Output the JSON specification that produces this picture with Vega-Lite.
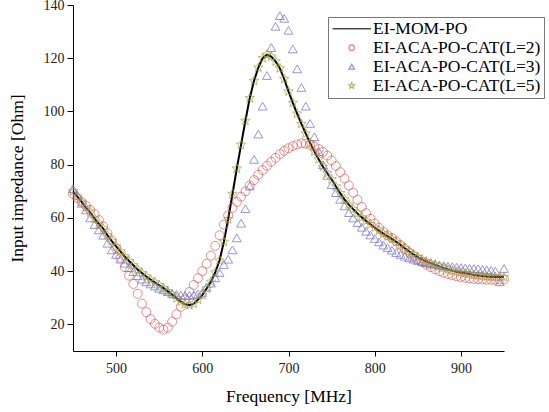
{
 "$schema": "https://vega.github.io/schema/vega-lite/v6.json",
 "width": 431, "height": 346,
 "autosize": {"type": "none"},
 "padding": {"left": 73, "top": 5, "right": 45, "bottom": 61},
 "background": "white",
 "config": {"view": {"stroke": null}},
 "data": {"values": [
{"s":"EI-MOM-PO","f":450,"v":70},{"s":"EI-MOM-PO","f":455,"v":68},{"s":"EI-MOM-PO","f":460,"v":66},{"s":"EI-MOM-PO","f":465,"v":64},{"s":"EI-MOM-PO","f":470,"v":62},{"s":"EI-MOM-PO","f":475,"v":59.8},{"s":"EI-MOM-PO","f":480,"v":57.8},{"s":"EI-MOM-PO","f":485,"v":56},{"s":"EI-MOM-PO","f":490,"v":53.5},{"s":"EI-MOM-PO","f":495,"v":51.3},
{"s":"EI-MOM-PO","f":500,"v":49.3},{"s":"EI-MOM-PO","f":505,"v":47.4},{"s":"EI-MOM-PO","f":510,"v":45.5},{"s":"EI-MOM-PO","f":515,"v":43.8},{"s":"EI-MOM-PO","f":520,"v":42.2},{"s":"EI-MOM-PO","f":525,"v":40.6},{"s":"EI-MOM-PO","f":530,"v":39.3},{"s":"EI-MOM-PO","f":535,"v":38},{"s":"EI-MOM-PO","f":540,"v":36.8},{"s":"EI-MOM-PO","f":545,"v":35.8},
{"s":"EI-MOM-PO","f":550,"v":34.7},{"s":"EI-MOM-PO","f":555,"v":33.6},{"s":"EI-MOM-PO","f":560,"v":32.4},{"s":"EI-MOM-PO","f":565,"v":31.2},{"s":"EI-MOM-PO","f":570,"v":29.8},{"s":"EI-MOM-PO","f":575,"v":28.6},{"s":"EI-MOM-PO","f":580,"v":27.6},{"s":"EI-MOM-PO","f":585,"v":27.2},{"s":"EI-MOM-PO","f":590,"v":27.8},{"s":"EI-MOM-PO","f":595,"v":29.3},
{"s":"EI-MOM-PO","f":600,"v":31},{"s":"EI-MOM-PO","f":605,"v":33.5},{"s":"EI-MOM-PO","f":610,"v":36},{"s":"EI-MOM-PO","f":615,"v":39.5},{"s":"EI-MOM-PO","f":620,"v":44},{"s":"EI-MOM-PO","f":625,"v":51},{"s":"EI-MOM-PO","f":630,"v":59.5},{"s":"EI-MOM-PO","f":635,"v":69},{"s":"EI-MOM-PO","f":640,"v":78.5},{"s":"EI-MOM-PO","f":645,"v":87.5},
{"s":"EI-MOM-PO","f":650,"v":96.5},{"s":"EI-MOM-PO","f":655,"v":105},{"s":"EI-MOM-PO","f":660,"v":111.5},{"s":"EI-MOM-PO","f":665,"v":116.5},{"s":"EI-MOM-PO","f":670,"v":120},{"s":"EI-MOM-PO","f":675,"v":121.3},{"s":"EI-MOM-PO","f":680,"v":120.6},{"s":"EI-MOM-PO","f":685,"v":118.8},{"s":"EI-MOM-PO","f":690,"v":116.2},{"s":"EI-MOM-PO","f":695,"v":112.2},
{"s":"EI-MOM-PO","f":700,"v":107.5},{"s":"EI-MOM-PO","f":705,"v":103.2},{"s":"EI-MOM-PO","f":710,"v":99.2},{"s":"EI-MOM-PO","f":715,"v":95.3},{"s":"EI-MOM-PO","f":720,"v":91.7},{"s":"EI-MOM-PO","f":725,"v":88.2},{"s":"EI-MOM-PO","f":730,"v":85},{"s":"EI-MOM-PO","f":735,"v":82},{"s":"EI-MOM-PO","f":740,"v":79.2},{"s":"EI-MOM-PO","f":745,"v":76.8},
{"s":"EI-MOM-PO","f":750,"v":74.5},{"s":"EI-MOM-PO","f":755,"v":71.8},{"s":"EI-MOM-PO","f":760,"v":69.3},{"s":"EI-MOM-PO","f":765,"v":67},{"s":"EI-MOM-PO","f":770,"v":65},{"s":"EI-MOM-PO","f":775,"v":63.3},{"s":"EI-MOM-PO","f":780,"v":61.7},{"s":"EI-MOM-PO","f":785,"v":60.2},{"s":"EI-MOM-PO","f":790,"v":58.9},{"s":"EI-MOM-PO","f":795,"v":57.6},
{"s":"EI-MOM-PO","f":800,"v":56.4},{"s":"EI-MOM-PO","f":805,"v":55.2},{"s":"EI-MOM-PO","f":810,"v":54.1},{"s":"EI-MOM-PO","f":815,"v":53.1},{"s":"EI-MOM-PO","f":820,"v":52.1},{"s":"EI-MOM-PO","f":825,"v":51},{"s":"EI-MOM-PO","f":830,"v":49.8},{"s":"EI-MOM-PO","f":835,"v":48.6},{"s":"EI-MOM-PO","f":840,"v":47.4},{"s":"EI-MOM-PO","f":845,"v":46.3},
{"s":"EI-MOM-PO","f":850,"v":45.3},{"s":"EI-MOM-PO","f":855,"v":44.4},{"s":"EI-MOM-PO","f":860,"v":43.7},{"s":"EI-MOM-PO","f":865,"v":43},{"s":"EI-MOM-PO","f":870,"v":42.4},{"s":"EI-MOM-PO","f":875,"v":41.8},{"s":"EI-MOM-PO","f":880,"v":41.2},{"s":"EI-MOM-PO","f":885,"v":40.6},{"s":"EI-MOM-PO","f":890,"v":40.2},{"s":"EI-MOM-PO","f":895,"v":39.8},
{"s":"EI-MOM-PO","f":900,"v":39.5},{"s":"EI-MOM-PO","f":905,"v":39.2},{"s":"EI-MOM-PO","f":910,"v":38.9},{"s":"EI-MOM-PO","f":915,"v":38.6},{"s":"EI-MOM-PO","f":920,"v":38.4},{"s":"EI-MOM-PO","f":925,"v":38.2},{"s":"EI-MOM-PO","f":930,"v":38},{"s":"EI-MOM-PO","f":935,"v":37.9},{"s":"EI-MOM-PO","f":940,"v":37.8},{"s":"EI-MOM-PO","f":945,"v":37.8},{"s":"EI-MOM-PO","f":950,"v":37.8},

{"s":"EI-ACA-PO-CAT(L=2)","f":450,"v":69},{"s":"EI-ACA-PO-CAT(L=2)","f":455,"v":67.5},{"s":"EI-ACA-PO-CAT(L=2)","f":460,"v":66},{"s":"EI-ACA-PO-CAT(L=2)","f":465,"v":64.6},{"s":"EI-ACA-PO-CAT(L=2)","f":470,"v":63},{"s":"EI-ACA-PO-CAT(L=2)","f":475,"v":61.5},{"s":"EI-ACA-PO-CAT(L=2)","f":480,"v":59.2},{"s":"EI-ACA-PO-CAT(L=2)","f":485,"v":56.8},{"s":"EI-ACA-PO-CAT(L=2)","f":490,"v":54.2},{"s":"EI-ACA-PO-CAT(L=2)","f":495,"v":51.6},
{"s":"EI-ACA-PO-CAT(L=2)","f":500,"v":48.5},{"s":"EI-ACA-PO-CAT(L=2)","f":505,"v":45},{"s":"EI-ACA-PO-CAT(L=2)","f":510,"v":41.5},{"s":"EI-ACA-PO-CAT(L=2)","f":515,"v":38.3},{"s":"EI-ACA-PO-CAT(L=2)","f":520,"v":35.2},{"s":"EI-ACA-PO-CAT(L=2)","f":525,"v":31.5},{"s":"EI-ACA-PO-CAT(L=2)","f":530,"v":27.8},{"s":"EI-ACA-PO-CAT(L=2)","f":535,"v":24.6},{"s":"EI-ACA-PO-CAT(L=2)","f":540,"v":22},{"s":"EI-ACA-PO-CAT(L=2)","f":545,"v":20.2},
{"s":"EI-ACA-PO-CAT(L=2)","f":550,"v":18.8},{"s":"EI-ACA-PO-CAT(L=2)","f":555,"v":18},{"s":"EI-ACA-PO-CAT(L=2)","f":560,"v":18.8},{"s":"EI-ACA-PO-CAT(L=2)","f":565,"v":21},{"s":"EI-ACA-PO-CAT(L=2)","f":570,"v":23.8},{"s":"EI-ACA-PO-CAT(L=2)","f":575,"v":26.6},{"s":"EI-ACA-PO-CAT(L=2)","f":580,"v":29.4},{"s":"EI-ACA-PO-CAT(L=2)","f":585,"v":32.2},{"s":"EI-ACA-PO-CAT(L=2)","f":590,"v":34.8},{"s":"EI-ACA-PO-CAT(L=2)","f":595,"v":37.4},
{"s":"EI-ACA-PO-CAT(L=2)","f":600,"v":40},{"s":"EI-ACA-PO-CAT(L=2)","f":605,"v":42.8},{"s":"EI-ACA-PO-CAT(L=2)","f":610,"v":45.8},{"s":"EI-ACA-PO-CAT(L=2)","f":615,"v":49.5},{"s":"EI-ACA-PO-CAT(L=2)","f":620,"v":53.5},{"s":"EI-ACA-PO-CAT(L=2)","f":625,"v":57.5},{"s":"EI-ACA-PO-CAT(L=2)","f":630,"v":61},{"s":"EI-ACA-PO-CAT(L=2)","f":635,"v":63.8},{"s":"EI-ACA-PO-CAT(L=2)","f":640,"v":66},{"s":"EI-ACA-PO-CAT(L=2)","f":645,"v":68},
{"s":"EI-ACA-PO-CAT(L=2)","f":650,"v":70},{"s":"EI-ACA-PO-CAT(L=2)","f":655,"v":72.2},{"s":"EI-ACA-PO-CAT(L=2)","f":660,"v":74.2},{"s":"EI-ACA-PO-CAT(L=2)","f":665,"v":76.2},{"s":"EI-ACA-PO-CAT(L=2)","f":670,"v":78},{"s":"EI-ACA-PO-CAT(L=2)","f":675,"v":79.6},{"s":"EI-ACA-PO-CAT(L=2)","f":680,"v":81.1},{"s":"EI-ACA-PO-CAT(L=2)","f":685,"v":82.6},{"s":"EI-ACA-PO-CAT(L=2)","f":690,"v":84},{"s":"EI-ACA-PO-CAT(L=2)","f":695,"v":85.2},
{"s":"EI-ACA-PO-CAT(L=2)","f":700,"v":86.2},{"s":"EI-ACA-PO-CAT(L=2)","f":705,"v":87},{"s":"EI-ACA-PO-CAT(L=2)","f":710,"v":87.6},{"s":"EI-ACA-PO-CAT(L=2)","f":715,"v":88},{"s":"EI-ACA-PO-CAT(L=2)","f":720,"v":87.9},{"s":"EI-ACA-PO-CAT(L=2)","f":725,"v":87.5},{"s":"EI-ACA-PO-CAT(L=2)","f":730,"v":86.8},{"s":"EI-ACA-PO-CAT(L=2)","f":735,"v":85.9},{"s":"EI-ACA-PO-CAT(L=2)","f":740,"v":84.8},{"s":"EI-ACA-PO-CAT(L=2)","f":745,"v":83.4},
{"s":"EI-ACA-PO-CAT(L=2)","f":750,"v":81.6},{"s":"EI-ACA-PO-CAT(L=2)","f":755,"v":79.5},{"s":"EI-ACA-PO-CAT(L=2)","f":760,"v":77.2},{"s":"EI-ACA-PO-CAT(L=2)","f":765,"v":74.8},{"s":"EI-ACA-PO-CAT(L=2)","f":770,"v":72.2},{"s":"EI-ACA-PO-CAT(L=2)","f":775,"v":69.5},{"s":"EI-ACA-PO-CAT(L=2)","f":780,"v":66.8},{"s":"EI-ACA-PO-CAT(L=2)","f":785,"v":64.2},{"s":"EI-ACA-PO-CAT(L=2)","f":790,"v":61.8},{"s":"EI-ACA-PO-CAT(L=2)","f":795,"v":59.7},
{"s":"EI-ACA-PO-CAT(L=2)","f":800,"v":57.9},{"s":"EI-ACA-PO-CAT(L=2)","f":805,"v":56.3},{"s":"EI-ACA-PO-CAT(L=2)","f":810,"v":54.8},{"s":"EI-ACA-PO-CAT(L=2)","f":815,"v":53.5},{"s":"EI-ACA-PO-CAT(L=2)","f":820,"v":52.5},{"s":"EI-ACA-PO-CAT(L=2)","f":825,"v":51.2},{"s":"EI-ACA-PO-CAT(L=2)","f":830,"v":49.8},{"s":"EI-ACA-PO-CAT(L=2)","f":835,"v":48.4},{"s":"EI-ACA-PO-CAT(L=2)","f":840,"v":47},{"s":"EI-ACA-PO-CAT(L=2)","f":845,"v":45.7},
{"s":"EI-ACA-PO-CAT(L=2)","f":850,"v":44.5},{"s":"EI-ACA-PO-CAT(L=2)","f":855,"v":43.4},{"s":"EI-ACA-PO-CAT(L=2)","f":860,"v":42.4},{"s":"EI-ACA-PO-CAT(L=2)","f":865,"v":41.5},{"s":"EI-ACA-PO-CAT(L=2)","f":870,"v":40.7},{"s":"EI-ACA-PO-CAT(L=2)","f":875,"v":40},{"s":"EI-ACA-PO-CAT(L=2)","f":880,"v":39.4},{"s":"EI-ACA-PO-CAT(L=2)","f":885,"v":38.9},{"s":"EI-ACA-PO-CAT(L=2)","f":890,"v":38.5},{"s":"EI-ACA-PO-CAT(L=2)","f":895,"v":38.1},
{"s":"EI-ACA-PO-CAT(L=2)","f":900,"v":37.8},{"s":"EI-ACA-PO-CAT(L=2)","f":905,"v":37.5},{"s":"EI-ACA-PO-CAT(L=2)","f":910,"v":37.3},{"s":"EI-ACA-PO-CAT(L=2)","f":915,"v":37.1},{"s":"EI-ACA-PO-CAT(L=2)","f":920,"v":37},{"s":"EI-ACA-PO-CAT(L=2)","f":925,"v":36.9},{"s":"EI-ACA-PO-CAT(L=2)","f":930,"v":36.8},{"s":"EI-ACA-PO-CAT(L=2)","f":935,"v":36.8},{"s":"EI-ACA-PO-CAT(L=2)","f":940,"v":36.8},{"s":"EI-ACA-PO-CAT(L=2)","f":945,"v":36.8},{"s":"EI-ACA-PO-CAT(L=2)","f":950,"v":36.9},

{"s":"EI-ACA-PO-CAT(L=3)","f":450,"v":71},{"s":"EI-ACA-PO-CAT(L=3)","f":455,"v":68.5},{"s":"EI-ACA-PO-CAT(L=3)","f":460,"v":65.5},{"s":"EI-ACA-PO-CAT(L=3)","f":465,"v":63},{"s":"EI-ACA-PO-CAT(L=3)","f":470,"v":60},{"s":"EI-ACA-PO-CAT(L=3)","f":475,"v":57.5},{"s":"EI-ACA-PO-CAT(L=3)","f":480,"v":55.5},{"s":"EI-ACA-PO-CAT(L=3)","f":485,"v":53.5},{"s":"EI-ACA-PO-CAT(L=3)","f":490,"v":50.5},{"s":"EI-ACA-PO-CAT(L=3)","f":495,"v":48},
{"s":"EI-ACA-PO-CAT(L=3)","f":500,"v":46.3},{"s":"EI-ACA-PO-CAT(L=3)","f":505,"v":44.5},{"s":"EI-ACA-PO-CAT(L=3)","f":510,"v":43},{"s":"EI-ACA-PO-CAT(L=3)","f":515,"v":41.3},{"s":"EI-ACA-PO-CAT(L=3)","f":520,"v":39.8},{"s":"EI-ACA-PO-CAT(L=3)","f":525,"v":38.3},{"s":"EI-ACA-PO-CAT(L=3)","f":530,"v":37},{"s":"EI-ACA-PO-CAT(L=3)","f":535,"v":36},{"s":"EI-ACA-PO-CAT(L=3)","f":540,"v":35.2},{"s":"EI-ACA-PO-CAT(L=3)","f":545,"v":34.4},
{"s":"EI-ACA-PO-CAT(L=3)","f":550,"v":33.6},{"s":"EI-ACA-PO-CAT(L=3)","f":555,"v":33},{"s":"EI-ACA-PO-CAT(L=3)","f":560,"v":32.3},{"s":"EI-ACA-PO-CAT(L=3)","f":565,"v":31.7},{"s":"EI-ACA-PO-CAT(L=3)","f":570,"v":31.3},{"s":"EI-ACA-PO-CAT(L=3)","f":575,"v":31},{"s":"EI-ACA-PO-CAT(L=3)","f":580,"v":30.9},{"s":"EI-ACA-PO-CAT(L=3)","f":585,"v":30.9},{"s":"EI-ACA-PO-CAT(L=3)","f":590,"v":31.1},{"s":"EI-ACA-PO-CAT(L=3)","f":595,"v":31.4},
{"s":"EI-ACA-PO-CAT(L=3)","f":600,"v":32},{"s":"EI-ACA-PO-CAT(L=3)","f":605,"v":34},{"s":"EI-ACA-PO-CAT(L=3)","f":610,"v":35.5},{"s":"EI-ACA-PO-CAT(L=3)","f":615,"v":37.5},{"s":"EI-ACA-PO-CAT(L=3)","f":620,"v":39.5},{"s":"EI-ACA-PO-CAT(L=3)","f":625,"v":42.5},{"s":"EI-ACA-PO-CAT(L=3)","f":630,"v":44.5},{"s":"EI-ACA-PO-CAT(L=3)","f":635,"v":48},{"s":"EI-ACA-PO-CAT(L=3)","f":640,"v":52.5},{"s":"EI-ACA-PO-CAT(L=3)","f":645,"v":58},
{"s":"EI-ACA-PO-CAT(L=3)","f":650,"v":63.5},{"s":"EI-ACA-PO-CAT(L=3)","f":655,"v":72},{"s":"EI-ACA-PO-CAT(L=3)","f":660,"v":82},{"s":"EI-ACA-PO-CAT(L=3)","f":665,"v":91.5},{"s":"EI-ACA-PO-CAT(L=3)","f":670,"v":102},{"s":"EI-ACA-PO-CAT(L=3)","f":675,"v":113.5},{"s":"EI-ACA-PO-CAT(L=3)","f":680,"v":124},{"s":"EI-ACA-PO-CAT(L=3)","f":685,"v":132},{"s":"EI-ACA-PO-CAT(L=3)","f":690,"v":136},{"s":"EI-ACA-PO-CAT(L=3)","f":695,"v":135},
{"s":"EI-ACA-PO-CAT(L=3)","f":700,"v":130.5},{"s":"EI-ACA-PO-CAT(L=3)","f":705,"v":123.5},{"s":"EI-ACA-PO-CAT(L=3)","f":710,"v":116},{"s":"EI-ACA-PO-CAT(L=3)","f":715,"v":109},{"s":"EI-ACA-PO-CAT(L=3)","f":720,"v":102},{"s":"EI-ACA-PO-CAT(L=3)","f":725,"v":95.5},{"s":"EI-ACA-PO-CAT(L=3)","f":730,"v":90.5},{"s":"EI-ACA-PO-CAT(L=3)","f":735,"v":85},{"s":"EI-ACA-PO-CAT(L=3)","f":740,"v":80},{"s":"EI-ACA-PO-CAT(L=3)","f":745,"v":76},
{"s":"EI-ACA-PO-CAT(L=3)","f":750,"v":72.5},{"s":"EI-ACA-PO-CAT(L=3)","f":755,"v":69.5},{"s":"EI-ACA-PO-CAT(L=3)","f":760,"v":67},{"s":"EI-ACA-PO-CAT(L=3)","f":765,"v":64.5},{"s":"EI-ACA-PO-CAT(L=3)","f":770,"v":62},{"s":"EI-ACA-PO-CAT(L=3)","f":775,"v":60},{"s":"EI-ACA-PO-CAT(L=3)","f":780,"v":58.2},{"s":"EI-ACA-PO-CAT(L=3)","f":785,"v":56.5},{"s":"EI-ACA-PO-CAT(L=3)","f":790,"v":55},{"s":"EI-ACA-PO-CAT(L=3)","f":795,"v":53.6},
{"s":"EI-ACA-PO-CAT(L=3)","f":800,"v":52.3},{"s":"EI-ACA-PO-CAT(L=3)","f":805,"v":51},{"s":"EI-ACA-PO-CAT(L=3)","f":810,"v":49.8},{"s":"EI-ACA-PO-CAT(L=3)","f":815,"v":48.8},{"s":"EI-ACA-PO-CAT(L=3)","f":820,"v":47.9},{"s":"EI-ACA-PO-CAT(L=3)","f":825,"v":47},{"s":"EI-ACA-PO-CAT(L=3)","f":830,"v":46.3},{"s":"EI-ACA-PO-CAT(L=3)","f":835,"v":45.6},{"s":"EI-ACA-PO-CAT(L=3)","f":840,"v":45},{"s":"EI-ACA-PO-CAT(L=3)","f":845,"v":44.5},
{"s":"EI-ACA-PO-CAT(L=3)","f":850,"v":44},{"s":"EI-ACA-PO-CAT(L=3)","f":855,"v":43.6},{"s":"EI-ACA-PO-CAT(L=3)","f":860,"v":43.2},{"s":"EI-ACA-PO-CAT(L=3)","f":865,"v":42.9},{"s":"EI-ACA-PO-CAT(L=3)","f":870,"v":42.6},{"s":"EI-ACA-PO-CAT(L=3)","f":875,"v":42.3},{"s":"EI-ACA-PO-CAT(L=3)","f":880,"v":42.1},{"s":"EI-ACA-PO-CAT(L=3)","f":885,"v":41.9},{"s":"EI-ACA-PO-CAT(L=3)","f":890,"v":41.7},{"s":"EI-ACA-PO-CAT(L=3)","f":895,"v":41.5},
{"s":"EI-ACA-PO-CAT(L=3)","f":900,"v":41.3},{"s":"EI-ACA-PO-CAT(L=3)","f":905,"v":41.2},{"s":"EI-ACA-PO-CAT(L=3)","f":910,"v":41.1},{"s":"EI-ACA-PO-CAT(L=3)","f":915,"v":41},{"s":"EI-ACA-PO-CAT(L=3)","f":920,"v":40.9},{"s":"EI-ACA-PO-CAT(L=3)","f":925,"v":40.7},{"s":"EI-ACA-PO-CAT(L=3)","f":930,"v":40.5},{"s":"EI-ACA-PO-CAT(L=3)","f":935,"v":40.3},{"s":"EI-ACA-PO-CAT(L=3)","f":940,"v":40},{"s":"EI-ACA-PO-CAT(L=3)","f":945,"v":36},{"s":"EI-ACA-PO-CAT(L=3)","f":950,"v":41},

{"s":"EI-ACA-PO-CAT(L=5)","f":450,"v":70},{"s":"EI-ACA-PO-CAT(L=5)","f":455,"v":68},{"s":"EI-ACA-PO-CAT(L=5)","f":460,"v":66},{"s":"EI-ACA-PO-CAT(L=5)","f":465,"v":64},{"s":"EI-ACA-PO-CAT(L=5)","f":470,"v":62},{"s":"EI-ACA-PO-CAT(L=5)","f":475,"v":59.8},{"s":"EI-ACA-PO-CAT(L=5)","f":480,"v":57.8},{"s":"EI-ACA-PO-CAT(L=5)","f":485,"v":56},{"s":"EI-ACA-PO-CAT(L=5)","f":490,"v":53.5},{"s":"EI-ACA-PO-CAT(L=5)","f":495,"v":51.3},
{"s":"EI-ACA-PO-CAT(L=5)","f":500,"v":49.3},{"s":"EI-ACA-PO-CAT(L=5)","f":505,"v":47.4},{"s":"EI-ACA-PO-CAT(L=5)","f":510,"v":45.5},{"s":"EI-ACA-PO-CAT(L=5)","f":515,"v":43.8},{"s":"EI-ACA-PO-CAT(L=5)","f":520,"v":42.2},{"s":"EI-ACA-PO-CAT(L=5)","f":525,"v":40.6},{"s":"EI-ACA-PO-CAT(L=5)","f":530,"v":39.3},{"s":"EI-ACA-PO-CAT(L=5)","f":535,"v":38},{"s":"EI-ACA-PO-CAT(L=5)","f":540,"v":36.8},{"s":"EI-ACA-PO-CAT(L=5)","f":545,"v":35.8},
{"s":"EI-ACA-PO-CAT(L=5)","f":550,"v":34.7},{"s":"EI-ACA-PO-CAT(L=5)","f":555,"v":33.6},{"s":"EI-ACA-PO-CAT(L=5)","f":560,"v":32.4},{"s":"EI-ACA-PO-CAT(L=5)","f":565,"v":31.2},{"s":"EI-ACA-PO-CAT(L=5)","f":570,"v":29.8},{"s":"EI-ACA-PO-CAT(L=5)","f":575,"v":28.6},{"s":"EI-ACA-PO-CAT(L=5)","f":580,"v":27.6},{"s":"EI-ACA-PO-CAT(L=5)","f":585,"v":27.2},{"s":"EI-ACA-PO-CAT(L=5)","f":590,"v":27.8},{"s":"EI-ACA-PO-CAT(L=5)","f":595,"v":29.3},
{"s":"EI-ACA-PO-CAT(L=5)","f":600,"v":31},{"s":"EI-ACA-PO-CAT(L=5)","f":605,"v":33.5},{"s":"EI-ACA-PO-CAT(L=5)","f":610,"v":36},{"s":"EI-ACA-PO-CAT(L=5)","f":615,"v":39.5},{"s":"EI-ACA-PO-CAT(L=5)","f":620,"v":44},{"s":"EI-ACA-PO-CAT(L=5)","f":625,"v":51},{"s":"EI-ACA-PO-CAT(L=5)","f":630,"v":59.5},{"s":"EI-ACA-PO-CAT(L=5)","f":635,"v":69},{"s":"EI-ACA-PO-CAT(L=5)","f":640,"v":78.5},{"s":"EI-ACA-PO-CAT(L=5)","f":645,"v":87.5},
{"s":"EI-ACA-PO-CAT(L=5)","f":650,"v":96.5},{"s":"EI-ACA-PO-CAT(L=5)","f":655,"v":105},{"s":"EI-ACA-PO-CAT(L=5)","f":660,"v":111.5},{"s":"EI-ACA-PO-CAT(L=5)","f":665,"v":116.5},{"s":"EI-ACA-PO-CAT(L=5)","f":670,"v":120},{"s":"EI-ACA-PO-CAT(L=5)","f":675,"v":121.3},{"s":"EI-ACA-PO-CAT(L=5)","f":680,"v":120.6},{"s":"EI-ACA-PO-CAT(L=5)","f":685,"v":118.8},{"s":"EI-ACA-PO-CAT(L=5)","f":690,"v":116.2},{"s":"EI-ACA-PO-CAT(L=5)","f":695,"v":112.2},
{"s":"EI-ACA-PO-CAT(L=5)","f":700,"v":107.5},{"s":"EI-ACA-PO-CAT(L=5)","f":705,"v":103.2},{"s":"EI-ACA-PO-CAT(L=5)","f":710,"v":99.2},{"s":"EI-ACA-PO-CAT(L=5)","f":715,"v":95.3},{"s":"EI-ACA-PO-CAT(L=5)","f":720,"v":91.7},{"s":"EI-ACA-PO-CAT(L=5)","f":725,"v":88.2},{"s":"EI-ACA-PO-CAT(L=5)","f":730,"v":85},{"s":"EI-ACA-PO-CAT(L=5)","f":735,"v":82},{"s":"EI-ACA-PO-CAT(L=5)","f":740,"v":79.2},{"s":"EI-ACA-PO-CAT(L=5)","f":745,"v":76.8},
{"s":"EI-ACA-PO-CAT(L=5)","f":750,"v":74.5},{"s":"EI-ACA-PO-CAT(L=5)","f":755,"v":71.8},{"s":"EI-ACA-PO-CAT(L=5)","f":760,"v":69.3},{"s":"EI-ACA-PO-CAT(L=5)","f":765,"v":67},{"s":"EI-ACA-PO-CAT(L=5)","f":770,"v":65},{"s":"EI-ACA-PO-CAT(L=5)","f":775,"v":63.3},{"s":"EI-ACA-PO-CAT(L=5)","f":780,"v":61.7},{"s":"EI-ACA-PO-CAT(L=5)","f":785,"v":60.2},{"s":"EI-ACA-PO-CAT(L=5)","f":790,"v":58.9},{"s":"EI-ACA-PO-CAT(L=5)","f":795,"v":57.6},
{"s":"EI-ACA-PO-CAT(L=5)","f":800,"v":56.4},{"s":"EI-ACA-PO-CAT(L=5)","f":805,"v":55.2},{"s":"EI-ACA-PO-CAT(L=5)","f":810,"v":54.1},{"s":"EI-ACA-PO-CAT(L=5)","f":815,"v":53.1},{"s":"EI-ACA-PO-CAT(L=5)","f":820,"v":52.1},{"s":"EI-ACA-PO-CAT(L=5)","f":825,"v":51},{"s":"EI-ACA-PO-CAT(L=5)","f":830,"v":49.8},{"s":"EI-ACA-PO-CAT(L=5)","f":835,"v":48.6},{"s":"EI-ACA-PO-CAT(L=5)","f":840,"v":47.4},{"s":"EI-ACA-PO-CAT(L=5)","f":845,"v":46.3},
{"s":"EI-ACA-PO-CAT(L=5)","f":850,"v":45.3},{"s":"EI-ACA-PO-CAT(L=5)","f":855,"v":44.4},{"s":"EI-ACA-PO-CAT(L=5)","f":860,"v":43.7},{"s":"EI-ACA-PO-CAT(L=5)","f":865,"v":43},{"s":"EI-ACA-PO-CAT(L=5)","f":870,"v":42.4},{"s":"EI-ACA-PO-CAT(L=5)","f":875,"v":41.8},{"s":"EI-ACA-PO-CAT(L=5)","f":880,"v":41.2},{"s":"EI-ACA-PO-CAT(L=5)","f":885,"v":40.6},{"s":"EI-ACA-PO-CAT(L=5)","f":890,"v":40.2},{"s":"EI-ACA-PO-CAT(L=5)","f":895,"v":39.8},
{"s":"EI-ACA-PO-CAT(L=5)","f":900,"v":39.5},{"s":"EI-ACA-PO-CAT(L=5)","f":905,"v":39.2},{"s":"EI-ACA-PO-CAT(L=5)","f":910,"v":38.9},{"s":"EI-ACA-PO-CAT(L=5)","f":915,"v":38.6},{"s":"EI-ACA-PO-CAT(L=5)","f":920,"v":38.4},{"s":"EI-ACA-PO-CAT(L=5)","f":925,"v":38.2},{"s":"EI-ACA-PO-CAT(L=5)","f":930,"v":38},{"s":"EI-ACA-PO-CAT(L=5)","f":935,"v":37.9},{"s":"EI-ACA-PO-CAT(L=5)","f":940,"v":37.8},{"s":"EI-ACA-PO-CAT(L=5)","f":945,"v":37.8},{"s":"EI-ACA-PO-CAT(L=5)","f":950,"v":37.8}
 ]},
 "encoding": {
  "x": {"field": "f", "type": "quantitative", "scale": {"domain": [450, 950], "nice": false, "zero": false},
   "axis": {"title": "Frequency [MHz]", "grid": false, "domainColor": "black", "tickColor": "black", "labelColor": "#222222", "titleColor": "black", "labelFont": "Liberation Serif", "titleFont": "Liberation Serif", "labelFontSize": 14, "titleFontSize": 17.5, "titleFontWeight": "normal", "labelFlush": false, "labelOverlap": false, "values": [500,600,700,800,900], "tickSize": 5, "labelPadding": 5, "titlePadding": 12}},
  "y": {"field": "v", "type": "quantitative", "scale": {"domain": [10, 140], "nice": false, "zero": false},
   "axis": {"title": "Input impedance [Ohm]", "grid": false, "domainColor": "black", "tickColor": "black", "labelColor": "#222222", "titleColor": "black", "labelFont": "Liberation Serif", "titleFont": "Liberation Serif", "labelFontSize": 14, "titleFontSize": 17.5, "titleFontWeight": "normal", "labelFlush": false, "labelOverlap": false, "values": [20,40,60,80,100,120,140], "tickSize": 6, "labelPadding": 3, "titlePadding": 17}},
  "color": {"field": "s", "type": "nominal",
   "scale": {"domain": ["EI-MOM-PO", "EI-ACA-PO-CAT(L=2)", "EI-ACA-PO-CAT(L=3)", "EI-ACA-PO-CAT(L=5)"], "range": ["#000000", "#e35b5b", "#6a6ad2", "#9c9c38"]},
   "legend": {"title": null, "orient": "none", "legendX": 255, "legendY": 12, "padding": 3, "strokeColor": "#777777", "fillColor": "white", "cornerRadius": 0, "labelFont": "Liberation Serif", "labelFontSize": 17.5, "labelColor": "black", "labelLimit": 400, "symbolSize": 30, "symbolStrokeWidth": 1.3, "symbolOffset": 12, "labelOffset": 12.5, "rowPadding": 0}}
 },
 "layer": [
  {"transform": [{"filter": "datum.s === 'EI-MOM-PO'"}], "mark": {"type": "line", "strokeWidth": 2}, "encoding": {}},
  {"transform": [{"filter": "datum.s !== 'EI-MOM-PO'"}], "mark": {"type": "point", "filled": false, "fill": "transparent", "size": 80, "strokeWidth": 1},
   "encoding": {"shape": {"field": "s", "type": "nominal",
    "scale": {"domain": ["EI-MOM-PO", "EI-ACA-PO-CAT(L=2)", "EI-ACA-PO-CAT(L=3)", "EI-ACA-PO-CAT(L=5)"], "range": ["M-7,0L7,0", "circle", "triangle-up", "M0,-1.1L0.29,-0.4L1.05,-0.34L0.47,0.15L0.65,0.89L0,0.49L-0.65,0.89L-0.47,0.15L-1.05,-0.34L-0.29,-0.4Z"]},
    "legend": {"title": null, "orient": "none", "legendX": 255, "legendY": 12, "padding": 3, "strokeColor": "#777777", "fillColor": "white", "cornerRadius": 0, "labelFont": "Liberation Serif", "labelFontSize": 17.5, "labelColor": "black", "labelLimit": 400, "symbolSize": 30, "symbolStrokeWidth": 1.3, "symbolOffset": 12, "labelOffset": 12.5, "rowPadding": 0}}}}
 ]
}
